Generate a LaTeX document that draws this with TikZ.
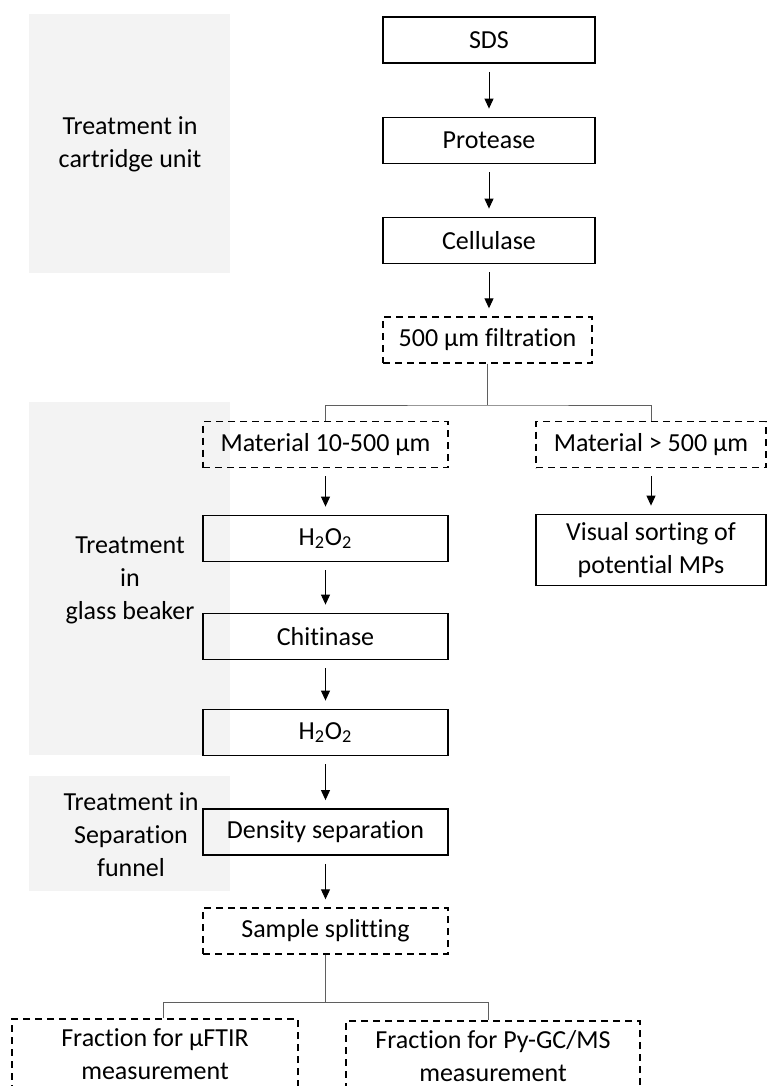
\documentclass[tikz,border=0pt]{standalone}
\usepackage{fontspec}
\setmainfont{Carlito}[Ligatures=NoCommon]
\usetikzlibrary{arrows.meta}
\def\boxfont{\fontsize{13pt}{16.5pt}\selectfont}
\definecolor{bandgray}{RGB}{243,243,243}
\definecolor{tiegray}{RGB}{95,95,95}
\tikzset{
	stepbox/.style={draw, line width=0.9pt, minimum width=122.5pt, minimum height=23pt, inner sep=0pt, font=\boxfont, align=center},
	dashbox/.style={stepbox, line width=0.7pt, dash pattern=on 3.5pt off 2.5pt},
	bandtext/.style={font=\boxfont, align=center, inner sep=0pt},
	flow/.style={-{Triangle[length=5pt,width=4.5pt]}, line width=0.5pt, shorten <=4pt, shorten >=4pt},
	tie/.style={line width=0.5pt, color=tiegray}
}

\begin{document}
\begin{tikzpicture}[x=0.5pt, y=-0.5pt]
			%%%%% START %%%%%
			\useasboundingbox (0, 0) rectangle (772, 1086);
			\clip (0, 0) rectangle (772, 1086);
			
			% grey bands
			\fill[bandgray] (29, 14) rectangle (230, 273);
			\fill[bandgray] (29, 402) rectangle (230, 755);
			\fill[bandgray] (29, 776) rectangle (230, 891);
			
			\node[bandtext] (cartridge) at (130, 144.5) {Treatment in\\cartridge unit};
			\node[bandtext] (beaker) at (130, 580) {Treatment\\in\\glass beaker};
			\node[bandtext] (funnel) at (131, 835) {Treatment in\\Separation\\funnel};
			
			% cartridge steps
			\node[stepbox, minimum width=106pt] (sds) at (489, 40) {SDS};
			\node[stepbox, minimum width=106pt] (prot) at (489, 140.5) {Protease};
			\node[stepbox, minimum width=106pt] (cell) at (489, 240.5) {Cellulase};
			\node[dashbox, minimum width=104.5pt] (filt) at (487.5, 340) {500 µm filtration};
			
			% size fractions
			\node[dashbox] (small) at (325.5, 444.5) {Material 10-500 µm};
			\node[dashbox, minimum width=115pt] (large) at (651, 444.5) {Material > 500 µm};
			\node[stepbox, minimum width=115pt, minimum height=35.5pt] (sort) at (651, 550) {Visual sorting of\\potential MPs};
			
			% beaker and funnel steps
			\node[stepbox] (perox1) at (325.5, 538.5) {H\textsubscript{2}O\textsubscript{2}};
			\node[stepbox] (chit) at (325.5, 636.5) {Chitinase};
			\node[stepbox] (perox2) at (325.5, 732.5) {H\textsubscript{2}O\textsubscript{2}};
			\node[stepbox] (dens) at (325.5, 832) {Density separation};
			\node[dashbox] (split) at (325.5, 931) {Sample splitting};
			
			% measurement fractions
			\node[dashbox, minimum width=143pt, minimum height=35pt] (ftir) at (155, 1054) {Fraction for µFTIR\\measurement};
			\node[dashbox, minimum width=147pt, minimum height=35pt] (pygc) at (493, 1056) {Fraction for Py-GC/MS\\measurement};
			
			% arrows
			\draw[flow] (sds) -- (prot);
			\draw[flow] (prot) -- (cell);
			\draw[flow] (cell.south) -- (cell.south |- filt.north);
			\draw[flow] (small) -- (perox1);
			\draw[flow] (large) -- (sort);
			\draw[flow] (perox1) -- (chit);
			\draw[flow] (chit) -- (perox2);
			\draw[flow] (perox2) -- (dens);
			\draw[flow] (dens) -- (split);
			
			% branching lines
			\coordinate (fork1) at (487.5, 405);
			\draw[tie] (filt.south) -- (fork1);
			\draw[tie] (small.north) |- (fork1) -| (large.north);
			
			\coordinate (fork2) at (325.5, 1002);
			\draw[tie] (split.south) -- (fork2);
			\draw[tie] ([xshift=4pt]ftir.north) |- (fork2) -| ([xshift=-2.5pt]pygc.north);
			
			%%%%% END %%%%%
\end{tikzpicture}
\end{document}
